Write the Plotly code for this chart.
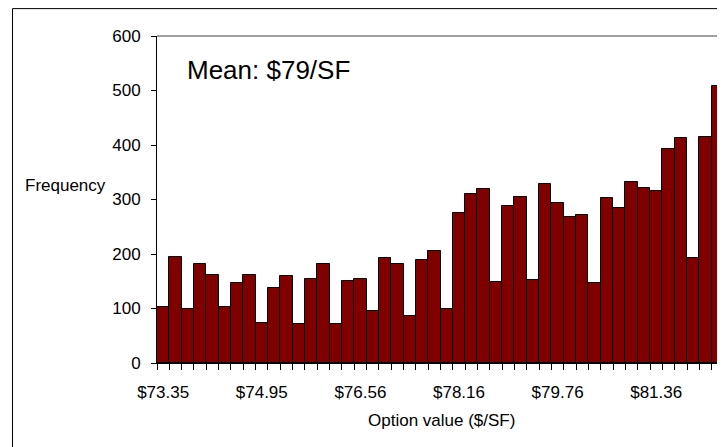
import plotly.graph_objects as go

# Histogram of option values (frequency per bin)
frequency = [102, 194, 100, 181, 162, 103, 147, 162, 74, 138, 159, 72, 155, 181, 72,
             151, 154, 95, 193, 181, 86, 189, 206, 100, 275, 310, 320, 149, 288, 305,
             153, 329, 293, 267, 271, 147, 303, 284, 333, 321, 316, 393, 412, 192, 415,
             509]
tick_labels = ["$73.35", "$74.95", "$76.56", "$78.16", "$79.76", "$81.36"]
label_every = 8
y_ticks = [0, 100, 200, 300, 400, 500, 600]

# The page body has an 8px margin, so the figure is drawn at page offset (8, 8).
OFF = 8
W, H = 725 - OFF, 447 - OFF
L, R, T, B = 157 - OFF, 1, 36 - OFF, 84
pw, ph = W - L - R, H - T - B

def px_x(p):  # page pixel -> paper x
    return (p - OFF - L) / pw

def px_y(p):  # page pixel -> paper y
    return (H - B - (p - OFF)) / ph

FONT = "Liberation Sans, Arial, sans-serif"

n = len(frequency)
xs = list(range(n))

fig = go.Figure()
fig.add_trace(go.Bar(
    x=xs, y=frequency,
    marker=dict(color="#800000", line=dict(color="#000000", width=1)),
    hoverinfo="y",
))

fig.update_layout(
    width=W, height=H,
    margin=dict(l=L, r=R, t=T, b=B, pad=0),
    paper_bgcolor="white", plot_bgcolor="white",
    bargap=0, showlegend=False,
    font=dict(family=FONT, size=17, color="#000000"),
    xaxis=dict(
        range=[-0.5, n - 0.5],
        tickmode="array",
        tickvals=xs[::label_every][:len(tick_labels)],
        ticktext=tick_labels,
        ticks="outside", ticklen=0,
        showgrid=False, zeroline=False,
        showline=True, linecolor="#000000", linewidth=1,
        minor=dict(tickmode="linear", tick0=-0.5, dtick=1, ticks="outside",
                   ticklen=6, tickcolor="#000000", tickwidth=1, showgrid=False),
        tickfont=dict(family=FONT, size=17, color="#000000"),
        ticklabelstandoff=14,
    ),
    yaxis=dict(
        range=[0, 600],
        tickmode="array", tickvals=y_ticks,
        ticks="outside", ticklen=5, tickcolor="#000000",
        showgrid=False, zeroline=False,
        showline=True, linecolor="#000000", linewidth=1, mirror=True,
        tickfont=dict(family=FONT, size=17, color="#000000"),
        ticklabelstandoff=7,
    ),
    shapes=[
        # grey top border of the plot area
        dict(type="line", xref="paper", yref="paper", x0=0, x1=1, y0=1, y1=1,
             line=dict(color="#808080", width=1.5)),
        # outer chart frame (extends beyond the visible window)
        dict(type="rect", xref="paper", yref="paper",
             x0=px_x(12.5), x1=px_x(760), y0=px_y(480), y1=px_y(8.6),
             line=dict(color="#000000", width=1), fillcolor="rgba(0,0,0,0)", layer="above"),
    ],
    annotations=[
        dict(text="Mean: $79/SF", xref="paper", yref="paper",
             x=px_x(185), y=px_y(70), xanchor="left", yanchor="middle",
             showarrow=False, font=dict(family=FONT, size=26, color="#000000")),
        dict(text="Frequency", xref="paper", yref="paper",
             x=px_x(65), y=px_y(185), xanchor="center", yanchor="middle",
             showarrow=False, font=dict(family=FONT, size=17, color="#000000")),
        dict(text="Option value ($/SF)", xref="paper", yref="paper",
             x=px_x(441), y=px_y(420), xanchor="center", yanchor="middle",
             showarrow=False, font=dict(family=FONT, size=17, color="#000000")),
    ],
)

fig.write_html("out.html")
